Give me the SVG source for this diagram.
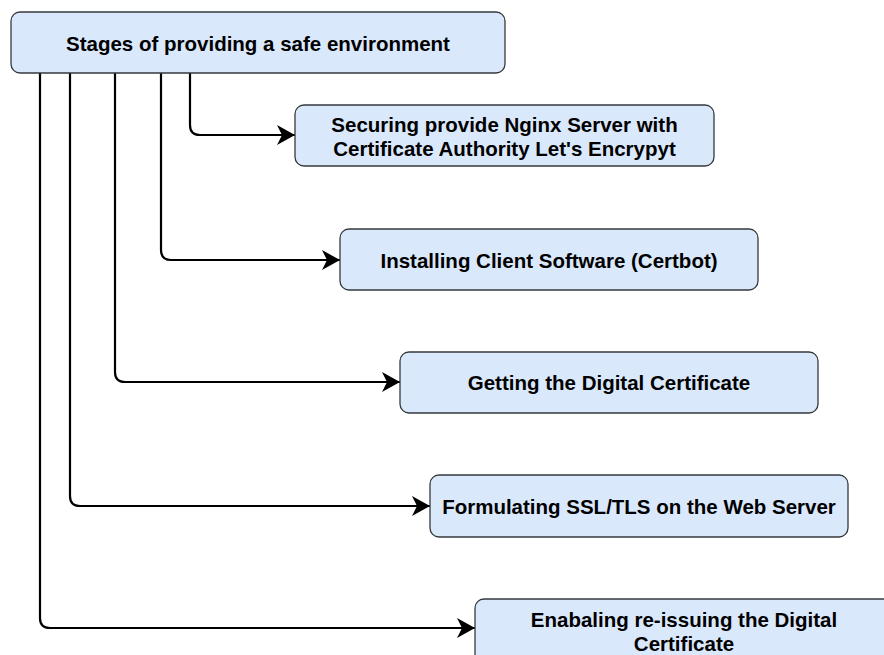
<svg xmlns="http://www.w3.org/2000/svg" width="884" height="655" viewBox="0 0 884 655">
<style>
.box{fill:#dae8fc;stroke:#36393d;stroke-width:1.3}
.t{font-family:"Liberation Sans",Arial,sans-serif;font-weight:bold;font-size:20.5px;fill:#000;text-anchor:middle;dominant-baseline:central}
.c{fill:none;stroke:#000;stroke-width:2.2}
</style>
<defs>
<marker id="ah" viewBox="0 0 18 20" refX="18" refY="10" markerWidth="18" markerHeight="20" markerUnits="userSpaceOnUse" orient="auto">
<path d="M18 10 L0 0 L5 10 L0 20 Z" fill="#000"/>
</marker>
</defs>
<rect width="884" height="655" fill="#fff"/>
<g id="connectors">
<path class="c" marker-end="url(#ah)" d="M190 73 V125 Q190 135 200 135 H295"/>
<path class="c" marker-end="url(#ah)" d="M161 73 V250 Q161 260 171 260 H340"/>
<path class="c" marker-end="url(#ah)" d="M115 73 V372 Q115 382 125 382 H400"/>
<path class="c" marker-end="url(#ah)" d="M70 73 V496 Q70 506 80 506 H430"/>
<path class="c" marker-end="url(#ah)" d="M40 73 V618 Q40 628 50 628 H475"/>
</g>
<g id="root">
<rect class="box" x="11" y="12" width="494" height="61" rx="9"/>
<text class="t" x="258" y="43">Stages of providing a safe environment</text>
</g>
<g id="n1">
<rect class="box" x="295" y="105" width="419" height="61" rx="9"/>
<text class="t" x="504.5" y="124">Securing provide Nginx Server with</text>
<text class="t" x="504.5" y="148">Certificate Authority Let's Encrypyt</text>
</g>
<g id="n2">
<rect class="box" x="340" y="229" width="418" height="61" rx="9"/>
<text class="t" x="549" y="260">Installing Client Software (Certbot)</text>
</g>
<g id="n3">
<rect class="box" x="400" y="352" width="418" height="61" rx="9"/>
<text class="t" x="609" y="382">Getting the Digital Certificate</text>
</g>
<g id="n4">
<rect class="box" x="430" y="475" width="418" height="62" rx="9"/>
<text class="t" x="639" y="506">Formulating SSL/TLS on the Web Server</text>
</g>
<g id="n5">
<rect class="box" x="475" y="599" width="418" height="70" rx="9"/>
<text class="t" x="684" y="619">Enabaling re-issuing the Digital</text>
<text class="t" x="684" y="643">Certificate</text>
</g>
</svg>
